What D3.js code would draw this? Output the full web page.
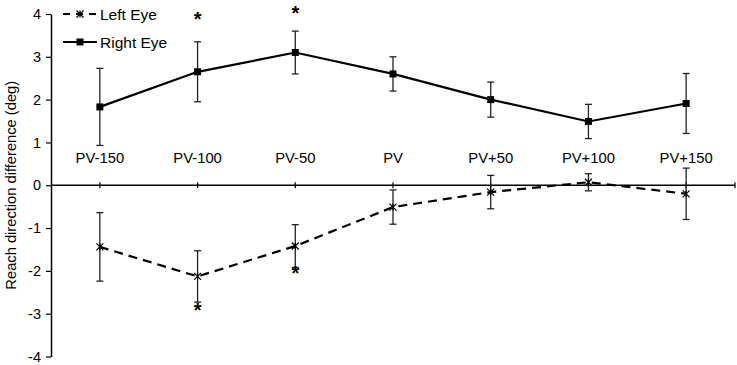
<!DOCTYPE html>
<html>
<head>
<meta charset="utf-8">
<script src="https://cdn.jsdelivr.net/npm/d3@7"></script>
<style>
  body { margin: 0; background: #fff; }
  text { font-family: "Liberation Sans", Arial, sans-serif; }
</style>
</head>
<body>
<div id="container"></div>
<script>
let w = 737;
let h = 365;

// data
let categories = ["PV-150", "PV-100", "PV-50", "PV", "PV+50", "PV+100", "PV+150"];
let rightEye = [1.83, 2.65, 3.1, 2.6, 2.0, 1.49, 1.91];
let rightErr = [0.9, 0.7, 0.5, 0.4, 0.41, 0.4, 0.7];
let leftEye = [-1.44, -2.13, -1.42, -0.51, -0.16, 0.07, -0.2];
let leftErr = [0.8, 0.6, 0.5, 0.4, 0.39, 0.2, 0.6];
// significance stars: [category, y value]
let rightStars = [["PV-100", 3.92], ["PV-50", 4.06]];
let leftStars = [["PV-100", -2.86], ["PV-50", -2.0]];
let yTicks = [-4, -3, -2, -1, 0, 1, 2, 3, 4];

let viz = d3.select("#container")
  .append("svg")
    .attr("width", w)
    .attr("height", h)
;

let xScale = d3.scalePoint().domain(categories).range([51, 735]).padding(0.5);
let yScale = d3.scaleLinear().domain([-4, 4]).range([356.5, 14]);

// y axis
let yAxisGroup = viz.append("g")
  .attr("transform", "translate(51, 0)")
  .call(d3.axisLeft(yScale).tickValues(yTicks).tickSize(5).tickSizeOuter(0).tickFormat(function(d){ return String(d); }));
yAxisGroup.select(".domain").attr("stroke", "#000").attr("stroke-width", 1.5);
yAxisGroup.selectAll(".tick line").attr("stroke", "#000").attr("stroke-width", 1.2);
yAxisGroup.selectAll(".tick text")
  .attr("font-size", "14.5px")
  .attr("fill", "#000")
  .attr("x", -10)
  .style("font-family", "'Liberation Sans', Arial, sans-serif");

viz.append("text")
  .text("Reach direction difference (deg)")
  .attr("transform", "translate(15.5, " + yScale(0) + ") rotate(-90)")
  .attr("text-anchor", "middle")
  .attr("font-size", "14.7px")
  .attr("fill", "#000");

// x axis along y = 0
let y0 = yScale(0);
viz.append("line")
  .attr("x1", 51).attr("x2", 735)
  .attr("y1", y0).attr("y2", y0)
  .attr("stroke", "#000").attr("stroke-width", 1.5);

let tickXs = categories.map(function(c){ return xScale(c); }).concat([735]);
viz.selectAll(".xtick").data(tickXs).enter().append("line")
  .attr("class", "xtick")
  .attr("x1", function(d){ return d; }).attr("x2", function(d){ return d; })
  .attr("y1", y0 - 3).attr("y2", y0 + 3)
  .attr("stroke", "#000").attr("stroke-width", 1.2);

viz.selectAll(".xlabel").data(categories).enter().append("text")
  .attr("class", "xlabel")
  .text(function(d){ return d; })
  .attr("x", function(d){ return xScale(d); })
  .attr("y", 163)
  .attr("text-anchor", "middle")
  .attr("font-size", "14.8px")
  .attr("fill", "#000");

function makeRows(vals, errs){
  return categories.map(function(c, i){ return { cat: c, v: vals[i], e: errs[i] }; });
}
let rightRows = makeRows(rightEye, rightErr);
let leftRows = makeRows(leftEye, leftErr);

function drawErrors(rows, cls){
  let g = viz.append("g").attr("class", cls);
  let bars = g.selectAll("g").data(rows).enter().append("g");
  bars.append("line")
    .attr("x1", function(d){ return xScale(d.cat); })
    .attr("x2", function(d){ return xScale(d.cat); })
    .attr("y1", function(d){ return yScale(d.v + d.e); })
    .attr("y2", function(d){ return yScale(d.v - d.e); })
    .attr("stroke", "#222").attr("stroke-width", 1.3);
  [1, -1].forEach(function(s){
    bars.append("line")
      .attr("x1", function(d){ return xScale(d.cat) - 3.5; })
      .attr("x2", function(d){ return xScale(d.cat) + 3.5; })
      .attr("y1", function(d){ return yScale(d.v + s * d.e); })
      .attr("y2", function(d){ return yScale(d.v + s * d.e); })
      .attr("stroke", "#222").attr("stroke-width", 1.3);
  });
}
drawErrors(rightRows, "errRight");
drawErrors(leftRows, "errLeft");

let line = d3.line()
  .x(function(d){ return xScale(d.cat); })
  .y(function(d){ return yScale(d.v); });

viz.append("path").datum(rightRows)
  .attr("d", line)
  .attr("fill", "none").attr("stroke", "#000").attr("stroke-width", 2.2);

viz.append("path").datum(leftRows)
  .attr("d", line)
  .attr("fill", "none").attr("stroke", "#000").attr("stroke-width", 2.2)
  .attr("stroke-dasharray", "9,6");

// markers
function squareMarker(sel, x, y){
  sel.append("rect")
    .attr("x", x - 3.5).attr("y", y - 3.5)
    .attr("width", 7).attr("height", 7)
    .attr("fill", "#000");
}
function starMarker(sel, x, y){
  let r = 3.5;
  sel.append("path")
    .attr("d", "M" + (x - r) + "," + (y - r) + "L" + (x + r) + "," + (y + r) +
               "M" + (x - r) + "," + (y + r) + "L" + (x + r) + "," + (y - r) +
               "M" + x + "," + (y - r) + "L" + x + "," + (y + r))
    .attr("stroke", "#000").attr("stroke-width", 1.2).attr("fill", "none");
}
let markG = viz.append("g");
rightRows.forEach(function(d){ squareMarker(markG, xScale(d.cat), yScale(d.v)); });
leftRows.forEach(function(d){ starMarker(markG, xScale(d.cat), yScale(d.v)); });

// significance asterisks
viz.selectAll(".sig").data(rightStars.concat(leftStars)).enter().append("text")
  .attr("class", "sig")
  .text("*")
  .attr("x", function(d){ return xScale(d[0]); })
  .attr("y", function(d){ return yScale(d[1]) + 9; })
  .attr("text-anchor", "middle")
  .attr("font-size", "20px")
  .attr("font-weight", "bold")
  .attr("fill", "#000");

// legend
let legend = viz.append("g");
legend.append("line")
  .attr("x1", 63).attr("x2", 97).attr("y1", 14).attr("y2", 14)
  .attr("stroke", "#000").attr("stroke-width", 2.2).attr("stroke-dasharray", "7,6");
starMarker(legend, 80, 14);
legend.append("text").text("Left Eye")
  .attr("x", 100).attr("y", 19.5).attr("font-size", "15.5px").attr("fill", "#000");

legend.append("line")
  .attr("x1", 63).attr("x2", 97).attr("y1", 42).attr("y2", 42)
  .attr("stroke", "#000").attr("stroke-width", 2.2);
squareMarker(legend, 80, 42);
legend.append("text").text("Right Eye")
  .attr("x", 100).attr("y", 47.5).attr("font-size", "15.5px").attr("fill", "#000");
</script>
</body>
</html>
